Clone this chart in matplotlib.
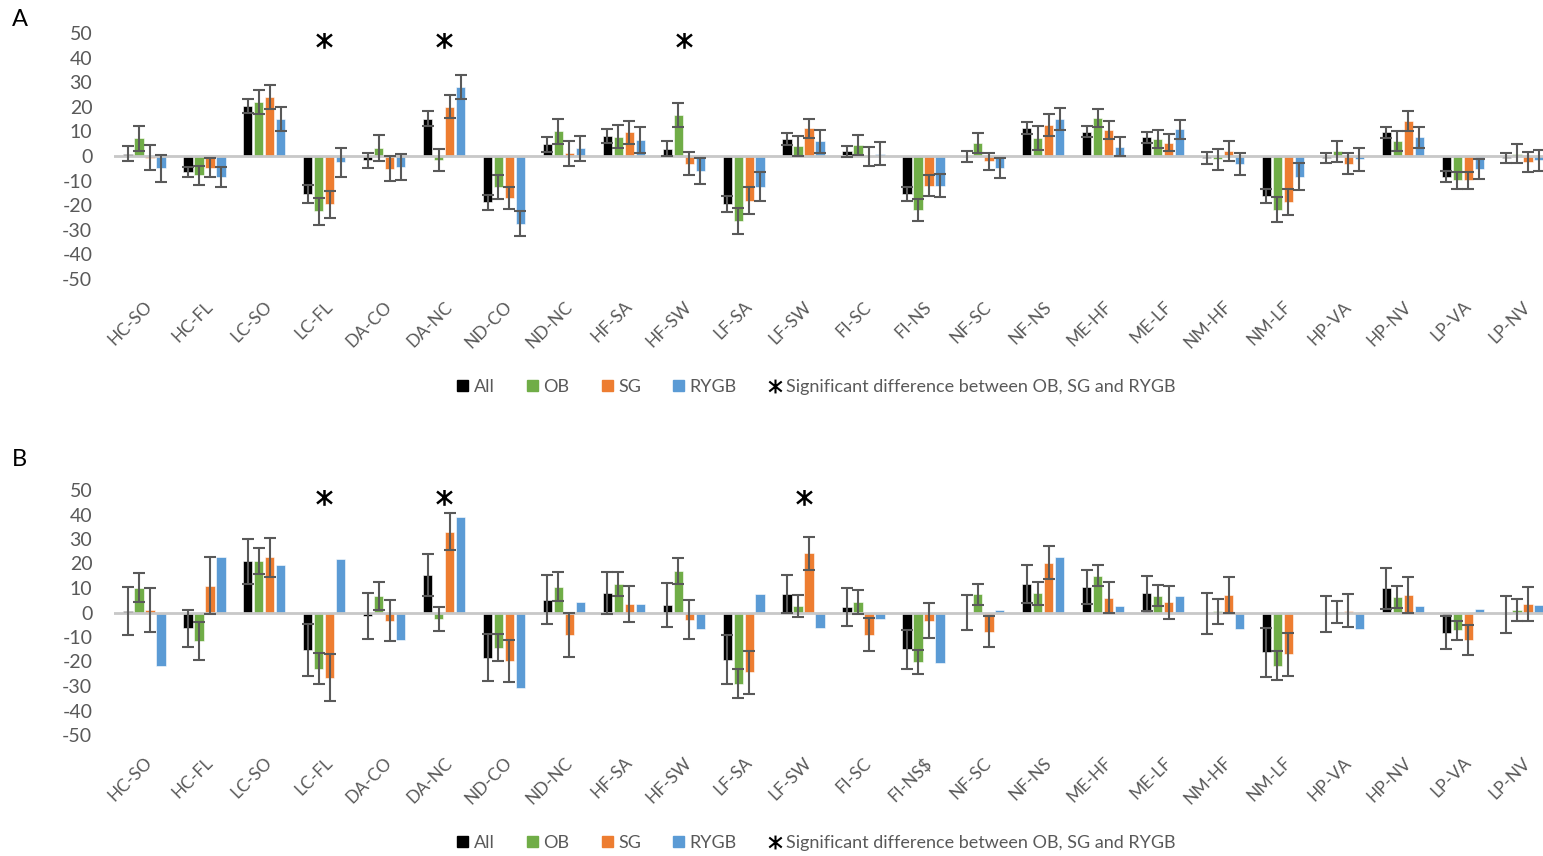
import matplotlib
matplotlib.use("Agg")
import matplotlib.pyplot as plt
import numpy as np
from matplotlib.patches import Patch
from matplotlib.lines import Line2D
from matplotlib.path import Path

plt.rcParams['font.family'] = ['Lato', 'DejaVu Sans']

categories = ['HC-SO', 'HC-FL', 'LC-SO', 'LC-FL', 'DA-CO', 'DA-NC', 'ND-CO', 'ND-NC',
              'HF-SA', 'HF-SW', 'LF-SA', 'LF-SW', 'FI-SC', 'FI-NS', 'NF-SC', 'NF-NS',
              'ME-HF', 'ME-LF', 'NM-HF', 'NM-LF', 'HP-VA', 'HP-NV', 'LP-VA', 'LP-NV']
categories_b = categories[:13] + ['FI-NS$'] + categories[14:]

series = ['All', 'OB', 'SG', 'RYGB']
colors = ['#000000', '#70AD47', '#ED7D31', '#5B9BD5']

# panel A
a_all = [1, -6.5, 20.4, -15.4, -1.8, 15.2, -18.8, 4.8, 8.2, 3, -19.5, 6.9,
         1.9, -15.4, -0.3, 11.4, 9.9, 7.6, -0.7, -16.3, -0.8, 9.7, -8.4, -0.8]
a_all_err = [3, 2.2, 2.9, 3.6, 3, 2.9, 3, 3.1, 2.9, 2.9, 3.1, 2.6,
             2.3, 2.7, 2.3, 2.6, 2.2, 2.3, 2.4, 3, 2.2, 2.2, 2.2, 2.0]
a_ob = [7.2, -7.8, 22, -22.4, 3.3, -1.5, -12.5, 10, 7.9, 16.7, -26.5, 4.1,
        4.5, -22, 5.4, 7.2, 15.4, 6.9, -1.4, -21.8, 2, 6.1, -9.9, 1]
a_ob_err = [5, 3.9, 4.8, 5.5, 5.2, 4.4, 4.8, 5.1, 4.8, 5, 5.3, 4,
            4.1, 4.5, 4.1, 4.8, 3.7, 3.6, 4.3, 5.1, 4.3, 4.2, 3.5, 3.9]
a_sg = [-0.7, -4.8, 24, -19.7, -5.2, 20.1, -17, 1.1, 9.7, -3.1, -18.2, 11.2,
        -0.2, -12, -2.2, 12.5, 10.5, 5.4, 2, -18.6, -3.1, 14.3, -9.9, -2.4]
a_sg_err = [5, 3.9, 4.9, 5.6, 5.1, 4.5, 4.6, 5, 4.7, 4.6, 5.4, 4,
            3.9, 4.2, 3.5, 4.4, 3.7, 3.5, 4.2, 5.2, 4.2, 4.1, 3.5, 4]
a_rygb = [-5, -8.4, 15, -2.5, -4.4, 27.9, -27.5, 3.1, 6.5, -6.1, -12.5, 5.9,
          1, -12, -5, 15, 3.7, 10.9, -3.1, -8.4, -1.4, 7.6, -5.2, -1.8]
a_rygb_err = [5.6, 4, 4.9, 5.9, 5.2, 4.9, 5.2, 5.2, 5.2, 5.3, 5.9, 4.7,
              4.5, 4.8, 4.1, 4.4, 3.9, 3.9, 4.5, 5.6, 4.6, 4.2, 4.1, 4.4]
a_signif = ['LC-FL', 'DA-NC', 'HF-SW']

# panel B
b_all = [0.7, -6.5, 21, -15.3, -1.5, 15.3, -18.4, 5.3, 8, 3, -19.2, 7.4,
         2.3, -15.1, 0, 11.6, 10.5, 7.8, -0.4, -16.3, -0.5, 9.8, -8.3, -0.7]
b_all_err = [9.8, 7.5, 9.2, 10.8, 9.5, 8.7, 9.5, 9.9, 8.7, 9.1, 9.9, 7.8,
             7.7, 8.1, 7, 7.7, 7, 7.2, 8.2, 10, 7.4, 8.2, 6.8, 7.5]
b_ob = [10.2, -11.6, 21, -23, 6.7, -2.6, -14.3, 10.5, 11.6, 16.9, -29, 2.5,
        4.2, -20.2, 7.4, 7.8, 15.1, 6.9, 0.5, -21.8, 0.3, 6.3, -7.2, 1]
b_ob_err = [5.8, 7.8, 5.2, 6.3, 5.7, 4.9, 5.4, 5.9, 4.9, 5.2, 5.8, 4.5,
            4.8, 5, 4.4, 4.7, 4.2, 4.3, 5, 5.9, 4.4, 4.5, 3.9, 4.4]
b_sg = [1, 10.9, 22.5, -26.6, -3.4, 33, -19.8, -9.3, 3.4, -2.9, -24.4, 24.1,
        -9, -3.4, -7.9, 20.4, 6, 4.2, 7.1, -17, 0.8, 7.1, -11.2, 3.5]
b_sg_err = [8.9, 11.6, 8.1, 9.7, 8.4, 7.6, 8.4, 8.9, 7.3, 8, 8.8, 6.8,
            6.8, 7.2, 6.3, 6.9, 6.3, 6.7, 7.4, 8.8, 6.7, 7.4, 6.1, 6.8]
b_rygb = [-21.7, 22.5, 19.2, 21.7, -11.4, 38.8, -31, 4.1, 3.4, -6.9, 7.4, -6.3,
          -2.7, -20.6, 1, 22.5, 2.5, 6.7, -6.9, 0, -6.9, 2.5, 1.6, 3.1]
b_signif = ['LC-FL', 'DA-NC', 'LF-SW']

y_ticks = list(range(-50, 51, 10))
text_grey = '#595959'

# asterisk like the Excel one: an X with a vertical stroke through it
star = Path([(0, -1), (0, 1), (-0.9, -0.72), (0.9, 0.72), (-0.9, 0.72), (0.9, -0.72)],
            [Path.MOVETO, Path.LINETO] * 3)


def draw_panel(ax, labels, values, errors, signif):
    x = np.arange(len(labels))
    offsets = [-0.275, -0.092, 0.092, 0.275]
    for i, (vals, errs) in enumerate(zip(values, errors)):
        ax.bar(x + offsets[i], vals, width=0.155, color=colors[i],
               edgecolor='white', linewidth=0.4, zorder=2)
        if errs is not None:
            ax.errorbar(x + offsets[i], vals, yerr=errs, fmt='none',
                        ecolor=text_grey, elinewidth=1.5, capsize=4.5,
                        capthick=1.5, zorder=4)
    ax.axhline(0, color='#c8c8c8', linewidth=2, zorder=3)
    sx = [labels.index(s) for s in signif]
    ax.plot(sx, [47] * len(sx), linestyle='none', marker=star,
            markersize=12, color='black', markeredgewidth=1.8, zorder=5)
    ax.set_xlim(-0.5, 23.34)
    ax.set_ylim(-50, 50)
    ax.set_yticks(y_ticks)
    ax.set_yticklabels([str(t) for t in y_ticks], fontsize=14, color=text_grey)
    ax.set_xticks(x)
    ax.set_xticklabels(labels, rotation=45, ha='right', va='top',
                       rotation_mode='anchor', fontsize=12.5, color=text_grey)
    ax.tick_params(axis='both', length=0)
    ax.tick_params(axis='y', pad=16)
    ax.tick_params(axis='x', pad=14)
    for s in ax.spines.values():
        s.set_visible(False)


def main():
    fig = plt.figure(figsize=(15.43, 8.56), dpi=100)
    left = 114.5 / 1543
    ax_a = fig.add_axes([left, 577 / 856, 1 - left, 246 / 856])
    ax_b = fig.add_axes([left, 121 / 856, 1 - left, 245 / 856])

    draw_panel(ax_a, categories, [a_all, a_ob, a_sg, a_rygb],
               [a_all_err, a_ob_err, a_sg_err, a_rygb_err], a_signif)
    draw_panel(ax_b, categories_b, [b_all, b_ob, b_sg, b_rygb],
               [b_all_err, b_ob_err, b_sg_err, None], b_signif)

    fig.text(12 / 1543, 1 - 20 / 856, 'A', fontsize=17, va='center', ha='left')
    fig.text(12 / 1543, 1 - 460 / 856, 'B', fontsize=17, va='center', ha='left')

    handles = [Patch(color=c) for c in colors]
    handles.append(Line2D([], [], linestyle='none', marker=star,
                          markersize=10, color='black', markeredgewidth=1.5))
    names = series + ['Significant difference between OB, SG and RYGB']
    for ypos in (1 - 387 / 856, 1 - 843 / 856):
        leg = fig.legend(handles, names, loc='center', bbox_to_anchor=(0.529, ypos),
                         ncol=5, frameon=False, fontsize=13, handlelength=0.6,
                         handleheight=0.6, handletextpad=0.3, columnspacing=1.8)
        for t in leg.get_texts():
            t.set_color(text_grey)

    fig.savefig('out.png', dpi=100)


if __name__ == "__main__":
    main()
